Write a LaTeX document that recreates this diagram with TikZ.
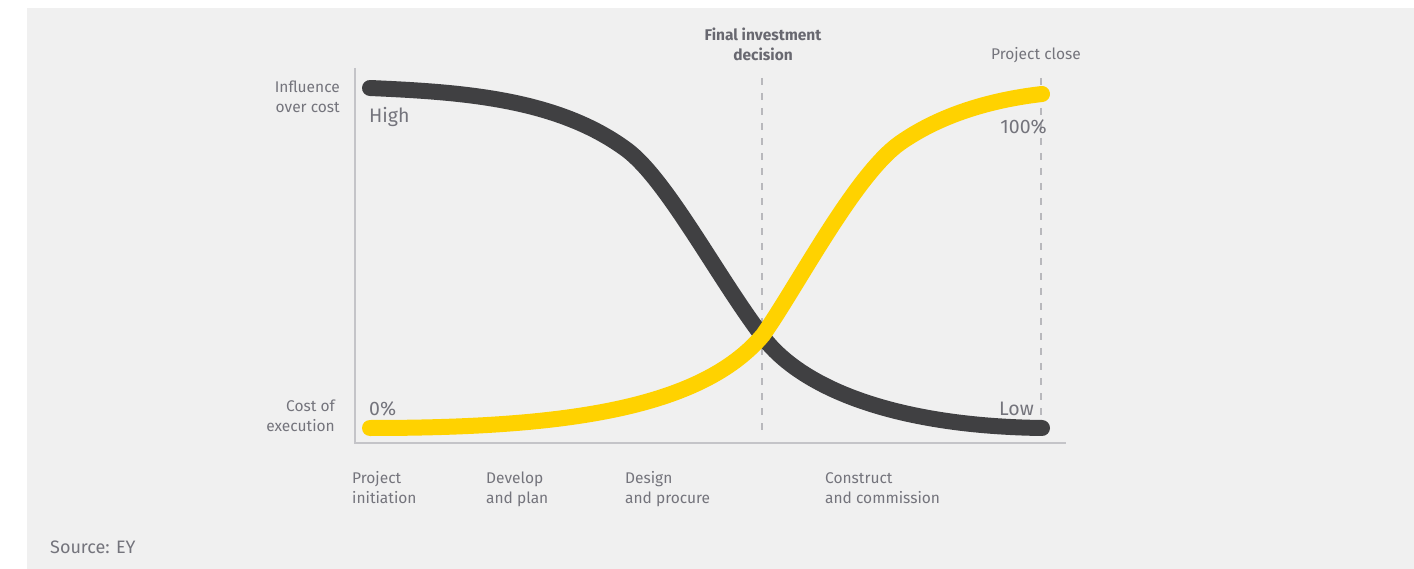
\documentclass[tikz,border=0pt]{standalone}
\usepackage{fontspec}
\setmainfont{Fira Sans}
\definecolor{panel}{RGB}{240, 240, 240}
\definecolor{inkdark}{RGB}{64, 64, 66}
\definecolor{inkyellow}{RGB}{255, 210, 0}
\definecolor{textgray}{RGB}{116, 116, 124}
\definecolor{axisgray}{RGB}{196, 196, 200}
\definecolor{guidegray}{RGB}{184, 184, 188}
\usepackage{tikz}
\usetikzlibrary{positioning}
\tikzset{
    axislabel/.style={
        inner sep=0pt,
        align=right,
        text=textgray,
        font=\fontsize{15.5}{20}\selectfont
    },
    phaselabel/.style={
        inner sep=0pt,
        align=left,
        anchor=base west,
        text=textgray,
        font=\fontsize{15.5}{20}\selectfont
    },
    valuelabel/.style={
        inner sep=0pt,
        text=textgray,
        font=\fontsize{19.5}{24}\selectfont
    },
    curveline/.style={line width=16pt, line cap=round},
    guideline/.style={line width=1.6pt, color=guidegray, dash pattern=on 7pt off 8pt}
}

\begin{document}
\begin{tikzpicture}[x=1pt, y=-1pt]
      \useasboundingbox (0,0) rectangle (1414,569);
      \fill[panel] (27,8) rectangle (1414,569);

      % axes
      \draw[axisgray, line width=1.5pt] (355,68) coordinate (ytop) -- (355,443) coordinate (origin) -- (1066,443) coordinate (xend);

      % milestones
      \draw[guideline] (762,78) coordinate (fidtop) -- (762,430) coordinate (fidbot);
      \draw[guideline] (1041,78) coordinate (closetop) -- (1041,415) coordinate (closebot);

      % curves
      \draw[curveline, inkdark] (370,88) .. controls (460,92) and (557,98) .. (627,150)
          .. controls (667,180) and (718,278) .. (763,337)
          .. controls (800,386) and (890,426) .. (1042,428);
      \draw[curveline, inkyellow] (370,428) .. controls (560,428) and (700,410) .. (763,335)
          .. controls (798,285) and (855,175) .. (900,143)
          .. controls (940,115) and (990,100) .. (1042,94);

      % labels
      \node[font=\bfseries\fontsize{15.5}{20}\selectfont, text=textgray!90!black, align=center, anchor=base] (fid) at (763,61) {Final investment\\decision};
      \node[axislabel, anchor=base] (close) at (1036,60) {Project close};
      \node[axislabel, anchor=base east] (influence) at (340,113) {Influence\\over cost};
      \node[axislabel, anchor=base east] (costexec) at (335,431) {Cost of\\execution};
      \node[valuelabel, anchor=base west] (high) at (369,123) {High};
      \node[valuelabel, anchor=base east] (full) at (1047,134) {100\%};
      \node[valuelabel, anchor=base west] (zero) at (369,415) {0\%};
      \node[valuelabel, anchor=base east] (low) at (1034,415) {Low};

      \node[phaselabel] (initiation) at (352,503) {Project\\initiation};
      \node[phaselabel] (develop) at (486,503) {Develop\\and plan};
      \node[phaselabel] (design) at (625,503) {Design\\and procure};
      \node[phaselabel] (construct) at (825,503) {Construct\\and commission};

      \node[text=textgray, inner sep=0pt, anchor=base west, font=\fontsize{18}{22}\selectfont] (source) at (50,553) {Source: EY};
\end{tikzpicture}
\end{document}
